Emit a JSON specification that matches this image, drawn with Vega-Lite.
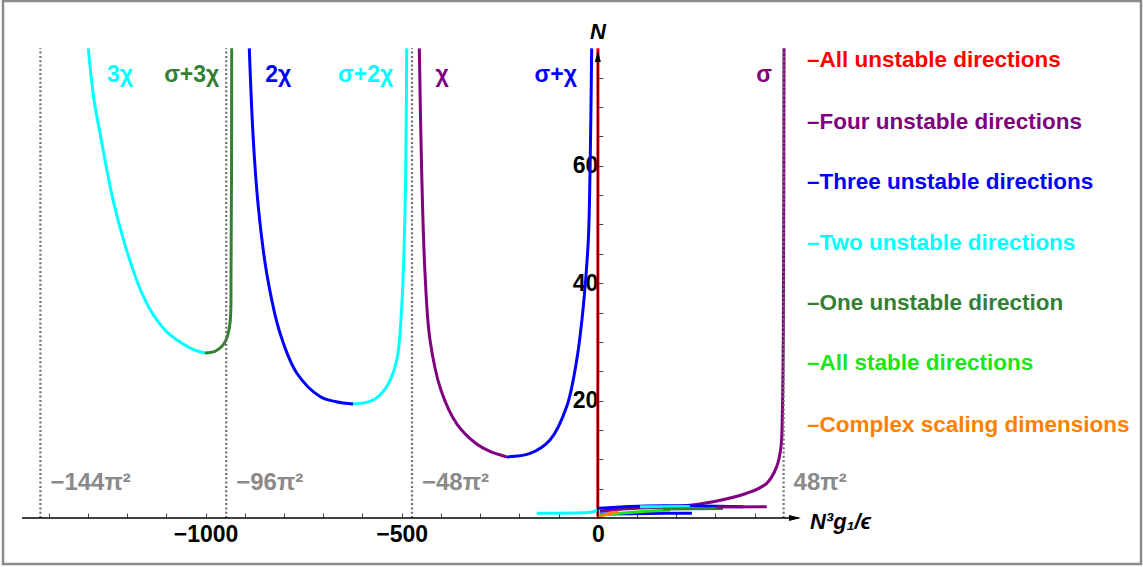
{
  "$schema": "https://vega.github.io/schema/vega-lite/v6.json",
  "width": 1138,
  "height": 563,
  "autosize": {"type": "none"},
  "padding": {"left": 3, "top": 1, "right": 2, "bottom": 3},
  "background": "white",
  "config": {"view": {"stroke": "#8c8c8c", "strokeWidth": 2.5}, "axis": {"grid": false}},
  "datasets": {
    "curves": [
      {"seg": "b1c", "cls": "Two unstable directions", "i": 0, "x": -1299.1, "y": 80.0},
      {"seg": "b1c", "cls": "Two unstable directions", "i": 1, "x": -1284.6, "y": 71.2},
      {"seg": "b1c", "cls": "Two unstable directions", "i": 2, "x": -1269.3, "y": 65.6},
      {"seg": "b1c", "cls": "Two unstable directions", "i": 3, "x": -1236.1, "y": 54.2},
      {"seg": "b1c", "cls": "Two unstable directions", "i": 4, "x": -1205.5, "y": 46.5},
      {"seg": "b1c", "cls": "Two unstable directions", "i": 5, "x": -1175.7, "y": 40.5},
      {"seg": "b1c", "cls": "Two unstable directions", "i": 6, "x": -1162.2, "y": 38.28},
      {"seg": "b1c", "cls": "Two unstable directions", "i": 7, "x": -1141.8, "y": 35.55},
      {"seg": "b1c", "cls": "Two unstable directions", "i": 8, "x": -1121.4, "y": 33.44},
      {"seg": "b1c", "cls": "Two unstable directions", "i": 9, "x": -1098.4, "y": 31.67},
      {"seg": "b1c", "cls": "Two unstable directions", "i": 10, "x": -1072.9, "y": 30.31},
      {"seg": "b1c", "cls": "Two unstable directions", "i": 11, "x": -1032.1, "y": 28.74},
      {"seg": "b1c", "cls": "Two unstable directions", "i": 12, "x": -1001.5, "y": 28.1},
      {"seg": "b1g", "cls": "One unstable direction", "i": 0, "x": -1001.5, "y": 28.1},
      {"seg": "b1g", "cls": "One unstable direction", "i": 1, "x": -976.0, "y": 28.4},
      {"seg": "b1g", "cls": "One unstable direction", "i": 2, "x": -959.0, "y": 29.2},
      {"seg": "b1g", "cls": "One unstable direction", "i": 3, "x": -948.0, "y": 30.3},
      {"seg": "b1g", "cls": "One unstable direction", "i": 4, "x": -937.8, "y": 33.2},
      {"seg": "b1g", "cls": "One unstable direction", "i": 5, "x": -935.2, "y": 41.7},
      {"seg": "b1g", "cls": "One unstable direction", "i": 6, "x": -934.0, "y": 57.6},
      {"seg": "b1g", "cls": "One unstable direction", "i": 7, "x": -933.5, "y": 80.0},
      {"seg": "b2b", "cls": "Three unstable directions", "i": 0, "x": -888.6, "y": 80.0},
      {"seg": "b2b", "cls": "Three unstable directions", "i": 1, "x": -878.4, "y": 64.4},
      {"seg": "b2b", "cls": "Three unstable directions", "i": 2, "x": -865.6, "y": 53.0},
      {"seg": "b2b", "cls": "Three unstable directions", "i": 3, "x": -844.2, "y": 41.7},
      {"seg": "b2b", "cls": "Three unstable directions", "i": 4, "x": -810.3, "y": 31.5},
      {"seg": "b2b", "cls": "Three unstable directions", "i": 5, "x": -767.7, "y": 24.7},
      {"seg": "b2b", "cls": "Three unstable directions", "i": 6, "x": -708.3, "y": 20.7},
      {"seg": "b2b", "cls": "Three unstable directions", "i": 7, "x": -667.5, "y": 19.8},
      {"seg": "b2b", "cls": "Three unstable directions", "i": 8, "x": -623.4, "y": 19.4},
      {"seg": "b2c", "cls": "Two unstable directions", "i": 0, "x": -623.4, "y": 19.4},
      {"seg": "b2c", "cls": "Two unstable directions", "i": 1, "x": -572.4, "y": 20.1},
      {"seg": "b2c", "cls": "Two unstable directions", "i": 2, "x": -538.2, "y": 22.4},
      {"seg": "b2c", "cls": "Two unstable directions", "i": 3, "x": -512.7, "y": 26.9},
      {"seg": "b2c", "cls": "Two unstable directions", "i": 4, "x": -500.0, "y": 36.0},
      {"seg": "b2c", "cls": "Two unstable directions", "i": 5, "x": -493.4, "y": 47.4},
      {"seg": "b2c", "cls": "Two unstable directions", "i": 6, "x": -489.8, "y": 58.7},
      {"seg": "b2c", "cls": "Two unstable directions", "i": 7, "x": -487.2, "y": 80.0},
      {"seg": "b3p", "cls": "Four unstable directions", "i": 0, "x": -455.1, "y": 80.0},
      {"seg": "b3p", "cls": "Four unstable directions", "i": 1, "x": -449.0, "y": 58.7},
      {"seg": "b3p", "cls": "Four unstable directions", "i": 2, "x": -440.6, "y": 41.7},
      {"seg": "b3p", "cls": "Four unstable directions", "i": 3, "x": -427.8, "y": 30.3},
      {"seg": "b3p", "cls": "Four unstable directions", "i": 4, "x": -400.0, "y": 21.8},
      {"seg": "b3p", "cls": "Four unstable directions", "i": 5, "x": -359.2, "y": 16.0},
      {"seg": "b3p", "cls": "Four unstable directions", "i": 6, "x": -308.8, "y": 12.6},
      {"seg": "b3p", "cls": "Four unstable directions", "i": 7, "x": -274.9, "y": 11.33},
      {"seg": "b3p", "cls": "Four unstable directions", "i": 8, "x": -232.3, "y": 10.4},
      {"seg": "b3b", "cls": "Three unstable directions", "i": 0, "x": -232.3, "y": 10.4},
      {"seg": "b3b", "cls": "Three unstable directions", "i": 1, "x": -172.9, "y": 11.0},
      {"seg": "b3b", "cls": "Three unstable directions", "i": 2, "x": -121.9, "y": 13.3},
      {"seg": "b3b", "cls": "Three unstable directions", "i": 3, "x": -79.3, "y": 19.0},
      {"seg": "b3b", "cls": "Three unstable directions", "i": 4, "x": -53.8, "y": 26.9},
      {"seg": "b3b", "cls": "Three unstable directions", "i": 5, "x": -37.0, "y": 36.0},
      {"seg": "b3b", "cls": "Three unstable directions", "i": 6, "x": -24.2, "y": 47.4},
      {"seg": "b3b", "cls": "Three unstable directions", "i": 7, "x": -19.9, "y": 58.7},
      {"seg": "b3b", "cls": "Three unstable directions", "i": 8, "x": -15.6, "y": 80.0},
      {"seg": "red", "cls": "All unstable directions", "i": 0, "x": 0.0, "y": 0.3},
      {"seg": "red", "cls": "All unstable directions", "i": 1, "x": 0.4, "y": 80.0},
      {"seg": "sig", "cls": "Four unstable directions", "i": 0, "x": 5.6, "y": 1.2},
      {"seg": "sig", "cls": "Four unstable directions", "i": 1, "x": 107.6, "y": 1.7},
      {"seg": "sig", "cls": "Four unstable directions", "i": 2, "x": 201.2, "y": 1.93},
      {"seg": "sig", "cls": "Four unstable directions", "i": 3, "x": 294.5, "y": 2.78},
      {"seg": "sig", "cls": "Four unstable directions", "i": 4, "x": 379.7, "y": 4.21},
      {"seg": "sig", "cls": "Four unstable directions", "i": 5, "x": 430.7, "y": 5.91},
      {"seg": "sig", "cls": "Four unstable directions", "i": 6, "x": 456.1, "y": 8.74},
      {"seg": "sig", "cls": "Four unstable directions", "i": 7, "x": 467.1, "y": 12.15},
      {"seg": "sig", "cls": "Four unstable directions", "i": 8, "x": 470.4, "y": 17.26},
      {"seg": "sig", "cls": "Four unstable directions", "i": 9, "x": 473.0, "y": 31.5},
      {"seg": "sig", "cls": "Four unstable directions", "i": 10, "x": 474.8, "y": 80.0},
      {"seg": "clCyanL", "cls": "Two unstable directions", "i": 0, "x": -155.8, "y": 0.8},
      {"seg": "clCyanL", "cls": "Two unstable directions", "i": 1, "x": -100.0, "y": 0.82},
      {"seg": "clCyanL", "cls": "Two unstable directions", "i": 2, "x": -11.5, "y": 1.07},
      {"seg": "clCyanL", "cls": "Two unstable directions", "i": 3, "x": 1.3, "y": 1.48},
      {"seg": "clBlueT", "cls": "Three unstable directions", "i": 0, "x": 1.3, "y": 1.65},
      {"seg": "clBlueT", "cls": "Three unstable directions", "i": 1, "x": 82.0, "y": 1.96},
      {"seg": "clBlueT", "cls": "Three unstable directions", "i": 2, "x": 167.0, "y": 2.1},
      {"seg": "clBlueT", "cls": "Three unstable directions", "i": 3, "x": 260.6, "y": 2.04},
      {"seg": "clBlueT", "cls": "Three unstable directions", "i": 4, "x": 371.0, "y": 1.93},
      {"seg": "clCyanT", "cls": "Two unstable directions", "i": 0, "x": 107.6, "y": 1.9},
      {"seg": "clCyanT", "cls": "Two unstable directions", "i": 1, "x": 235.0, "y": 1.96},
      {"seg": "clBlueB", "cls": "Three unstable directions", "i": 0, "x": 5.6, "y": 0.68},
      {"seg": "clBlueB", "cls": "Three unstable directions", "i": 1, "x": 133.0, "y": 0.77},
      {"seg": "clBlueB", "cls": "Three unstable directions", "i": 2, "x": 240.0, "y": 0.8},
      {"seg": "clGreen", "cls": "All stable directions", "i": 0, "x": 1.3, "y": 0.5},
      {"seg": "clGreen", "cls": "All stable directions", "i": 1, "x": 82.1, "y": 0.94},
      {"seg": "clGreen", "cls": "All stable directions", "i": 2, "x": 184.0, "y": 1.36},
      {"seg": "clDGreen", "cls": "One unstable direction", "i": 0, "x": 166.0, "y": 1.53},
      {"seg": "clDGreen", "cls": "One unstable direction", "i": 1, "x": 319.0, "y": 1.62},
      {"seg": "clOrange", "cls": "Complex scaling dimensions", "i": 0, "x": 1.3, "y": 0.22},
      {"seg": "clOrange", "cls": "Complex scaling dimensions", "i": 1, "x": 31.0, "y": 0.77},
      {"seg": "clOrange", "cls": "Complex scaling dimensions", "i": 2, "x": 52.0, "y": 1.0},
      {"seg": "clPurpleL", "cls": "Four unstable directions", "i": 0, "x": 303.0, "y": 1.87},
      {"seg": "clPurpleL", "cls": "Four unstable directions", "i": 1, "x": 430.7, "y": 1.93}
    ],
    "asym": [
      {"x": -1421.22, "y": 0, "y2": 80},
      {"x": -947.48, "y": 0, "y2": 80},
      {"x": -473.74, "y": 0, "y2": 80},
      {"x": 473.74, "y": 0, "y2": 80}
    ],
    "asymLabels": [
      {"label": "−144π²", "x": -1421.22, "y": 5.96},
      {"label": "−96π²", "x": -947.48, "y": 5.96},
      {"label": "−48π²", "x": -473.74, "y": 5.96},
      {"label": "48π²", "x": 473.74, "y": 5.96}
    ],
    "axisLines": [
      {"x": -1468, "x2": 512, "y": 0, "y2": 0},
      {"x": 0, "x2": 0, "y": 0, "y2": 78.5}
    ],
    "arrows": [
      {"dir": "r", "x": 518, "y": 0},
      {"dir": "u", "x": 0, "y": 79.73}
    ],
    "curveLabels": [
      {"label": "3χ", "cls": "Two unstable directions", "x": -1218.3, "y": 75.47},
      {"label": "σ+3χ", "cls": "One unstable direction", "x": -1035.4, "y": 75.47},
      {"label": "2χ", "cls": "Three unstable directions", "x": -814.6, "y": 75.47},
      {"label": "σ+2χ", "cls": "Two unstable directions", "x": -591.8, "y": 75.47},
      {"label": "χ", "cls": "Four unstable directions", "x": -397.2, "y": 75.47},
      {"label": "σ+χ", "cls": "Three unstable directions", "x": -107.1, "y": 75.47},
      {"label": "σ", "cls": "Four unstable directions", "x": 423.8, "y": 75.47}
    ],
    "legendRows": [
      {"label": "–All unstable directions", "cls": "All unstable directions", "x": 533.4, "y": 78.0},
      {"label": "–Four unstable directions", "cls": "Four unstable directions", "x": 533.4, "y": 67.5},
      {"label": "–Three unstable directions", "cls": "Three unstable directions", "x": 533.4, "y": 57.3},
      {"label": "–Two unstable directions", "cls": "Two unstable directions", "x": 533.4, "y": 46.8},
      {"label": "–One unstable direction", "cls": "One unstable direction", "x": 533.4, "y": 36.6},
      {"label": "–All stable directions", "cls": "All stable directions", "x": 533.4, "y": 26.4},
      {"label": "–Complex scaling dimensions", "cls": "Complex scaling dimensions", "x": 533.4, "y": 15.8}
    ],
    "titles": [
      {"label": "N", "x": -19.9, "y": 82.8},
      {"label": "N³g₁/ϵ", "x": 541, "y": -0.6}
    ]
  },
  "encoding": {
    "x": {
      "field": "x", "type": "quantitative",
      "scale": {"domain": [-1516.6, 1385.0], "nice": false, "zero": false},
      "axis": {
        "title": null, "domain": false, "offset": -46,
        "values": [-1400, -1300, -1200, -1100, -1000, -900, -800, -700, -600, -500, -400, -300, -200, -100, 0, 100, 200, 300, 400],
        "format": "d",
        "labelExpr": "datum.value % 500 == 0 ? datum.label : ''",
        "tickSize": -5, "tickColor": "#444444", "tickWidth": 1,
        "labelFont": "Liberation Sans", "labelFontWeight": "bold", "labelFontSize": 23,
        "labelColor": "black", "labelPadding": 10, "labelOverlap": false, "labelFlush": false, "labelBound": false
      }
    },
    "y": {
      "field": "y", "type": "quantitative",
      "scale": {"domain": [-7.84, 88.07], "nice": false, "zero": false},
      "axis": {
        "title": null, "domain": false, "offset": -594.8,
        "values": [5, 10, 15, 20, 25, 30, 35, 40, 45, 50, 55, 60, 65, 70, 75],
        "format": "d",
        "labelExpr": "datum.value % 20 == 0 ? datum.label : ''",
        "tickSize": -5, "tickColor": "#444444", "tickWidth": 1,
        "labelFont": "Liberation Sans", "labelFontWeight": "bold", "labelFontSize": 23,
        "labelColor": "black", "labelPadding": 5, "labelOverlap": false, "labelFlush": false, "labelBound": false
      }
    }
  },
  "layer": [
    {
      "data": {"name": "curves"},
      "mark": {"type": "line", "interpolate": "catmull-rom", "strokeWidth": 3},
      "encoding": {
        "detail": {"field": "seg"},
        "order": {"field": "i", "type": "quantitative"},
        "color": {
          "field": "cls", "type": "nominal", "legend": null,
          "scale": {
            "domain": ["All unstable directions", "Four unstable directions", "Three unstable directions", "Two unstable directions", "One unstable direction", "All stable directions", "Complex scaling dimensions"],
            "range": ["#FF0000", "#800080", "#0000FF", "#00FFFF", "#338033", "#1AE51A", "#FF8000"]
          }
        }
      }
    },
    {
      "data": {"name": "asym"},
      "mark": {"type": "rule", "color": "#707070", "strokeWidth": 2.2, "strokeDash": [2, 2.3]},
      "encoding": {"y2": {"field": "y2"}}
    },
    {
      "data": {"name": "axisLines"},
      "mark": {"type": "rule", "color": "black", "strokeWidth": 1.3},
      "encoding": {"x2": {"field": "x2"}, "y2": {"field": "y2"}}
    },
    {
      "data": {"name": "arrows"},
      "mark": {"type": "point", "filled": true, "color": "black", "opacity": 1, "size": 144, "strokeWidth": 0},
      "encoding": {
        "shape": {
          "field": "dir", "type": "nominal", "legend": null,
          "scale": {"domain": ["r", "u"], "range": ["M-2,-0.5L0,0L-2,0.5Z", "M-0.5,2L0,0L0.5,2Z"]}
        }
      }
    },
    {
      "data": {"name": "curveLabels"},
      "mark": {"type": "text", "font": "Liberation Sans", "fontWeight": "bold", "fontSize": 23, "align": "center", "baseline": "middle"},
      "encoding": {"text": {"field": "label"}, "color": {"field": "cls", "type": "nominal", "legend": null}}
    },
    {
      "data": {"name": "asymLabels"},
      "mark": {"type": "text", "font": "Liberation Sans", "fontWeight": "bold", "fontSize": 24, "align": "left", "baseline": "middle", "dx": 10, "color": "#8a8a8a"},
      "encoding": {"text": {"field": "label"}}
    },
    {
      "data": {"name": "legendRows"},
      "mark": {"type": "text", "font": "Liberation Sans", "fontWeight": "bold", "fontSize": 22.5, "align": "left", "baseline": "middle"},
      "encoding": {"text": {"field": "label"}, "color": {"field": "cls", "type": "nominal", "legend": null}}
    },
    {
      "data": {"name": "titles"},
      "mark": {"type": "text", "font": "Liberation Sans", "fontWeight": "bold", "fontStyle": "italic", "fontSize": 22, "align": "left", "baseline": "middle", "color": "black"},
      "encoding": {"text": {"field": "label"}}
    }
  ]
}
